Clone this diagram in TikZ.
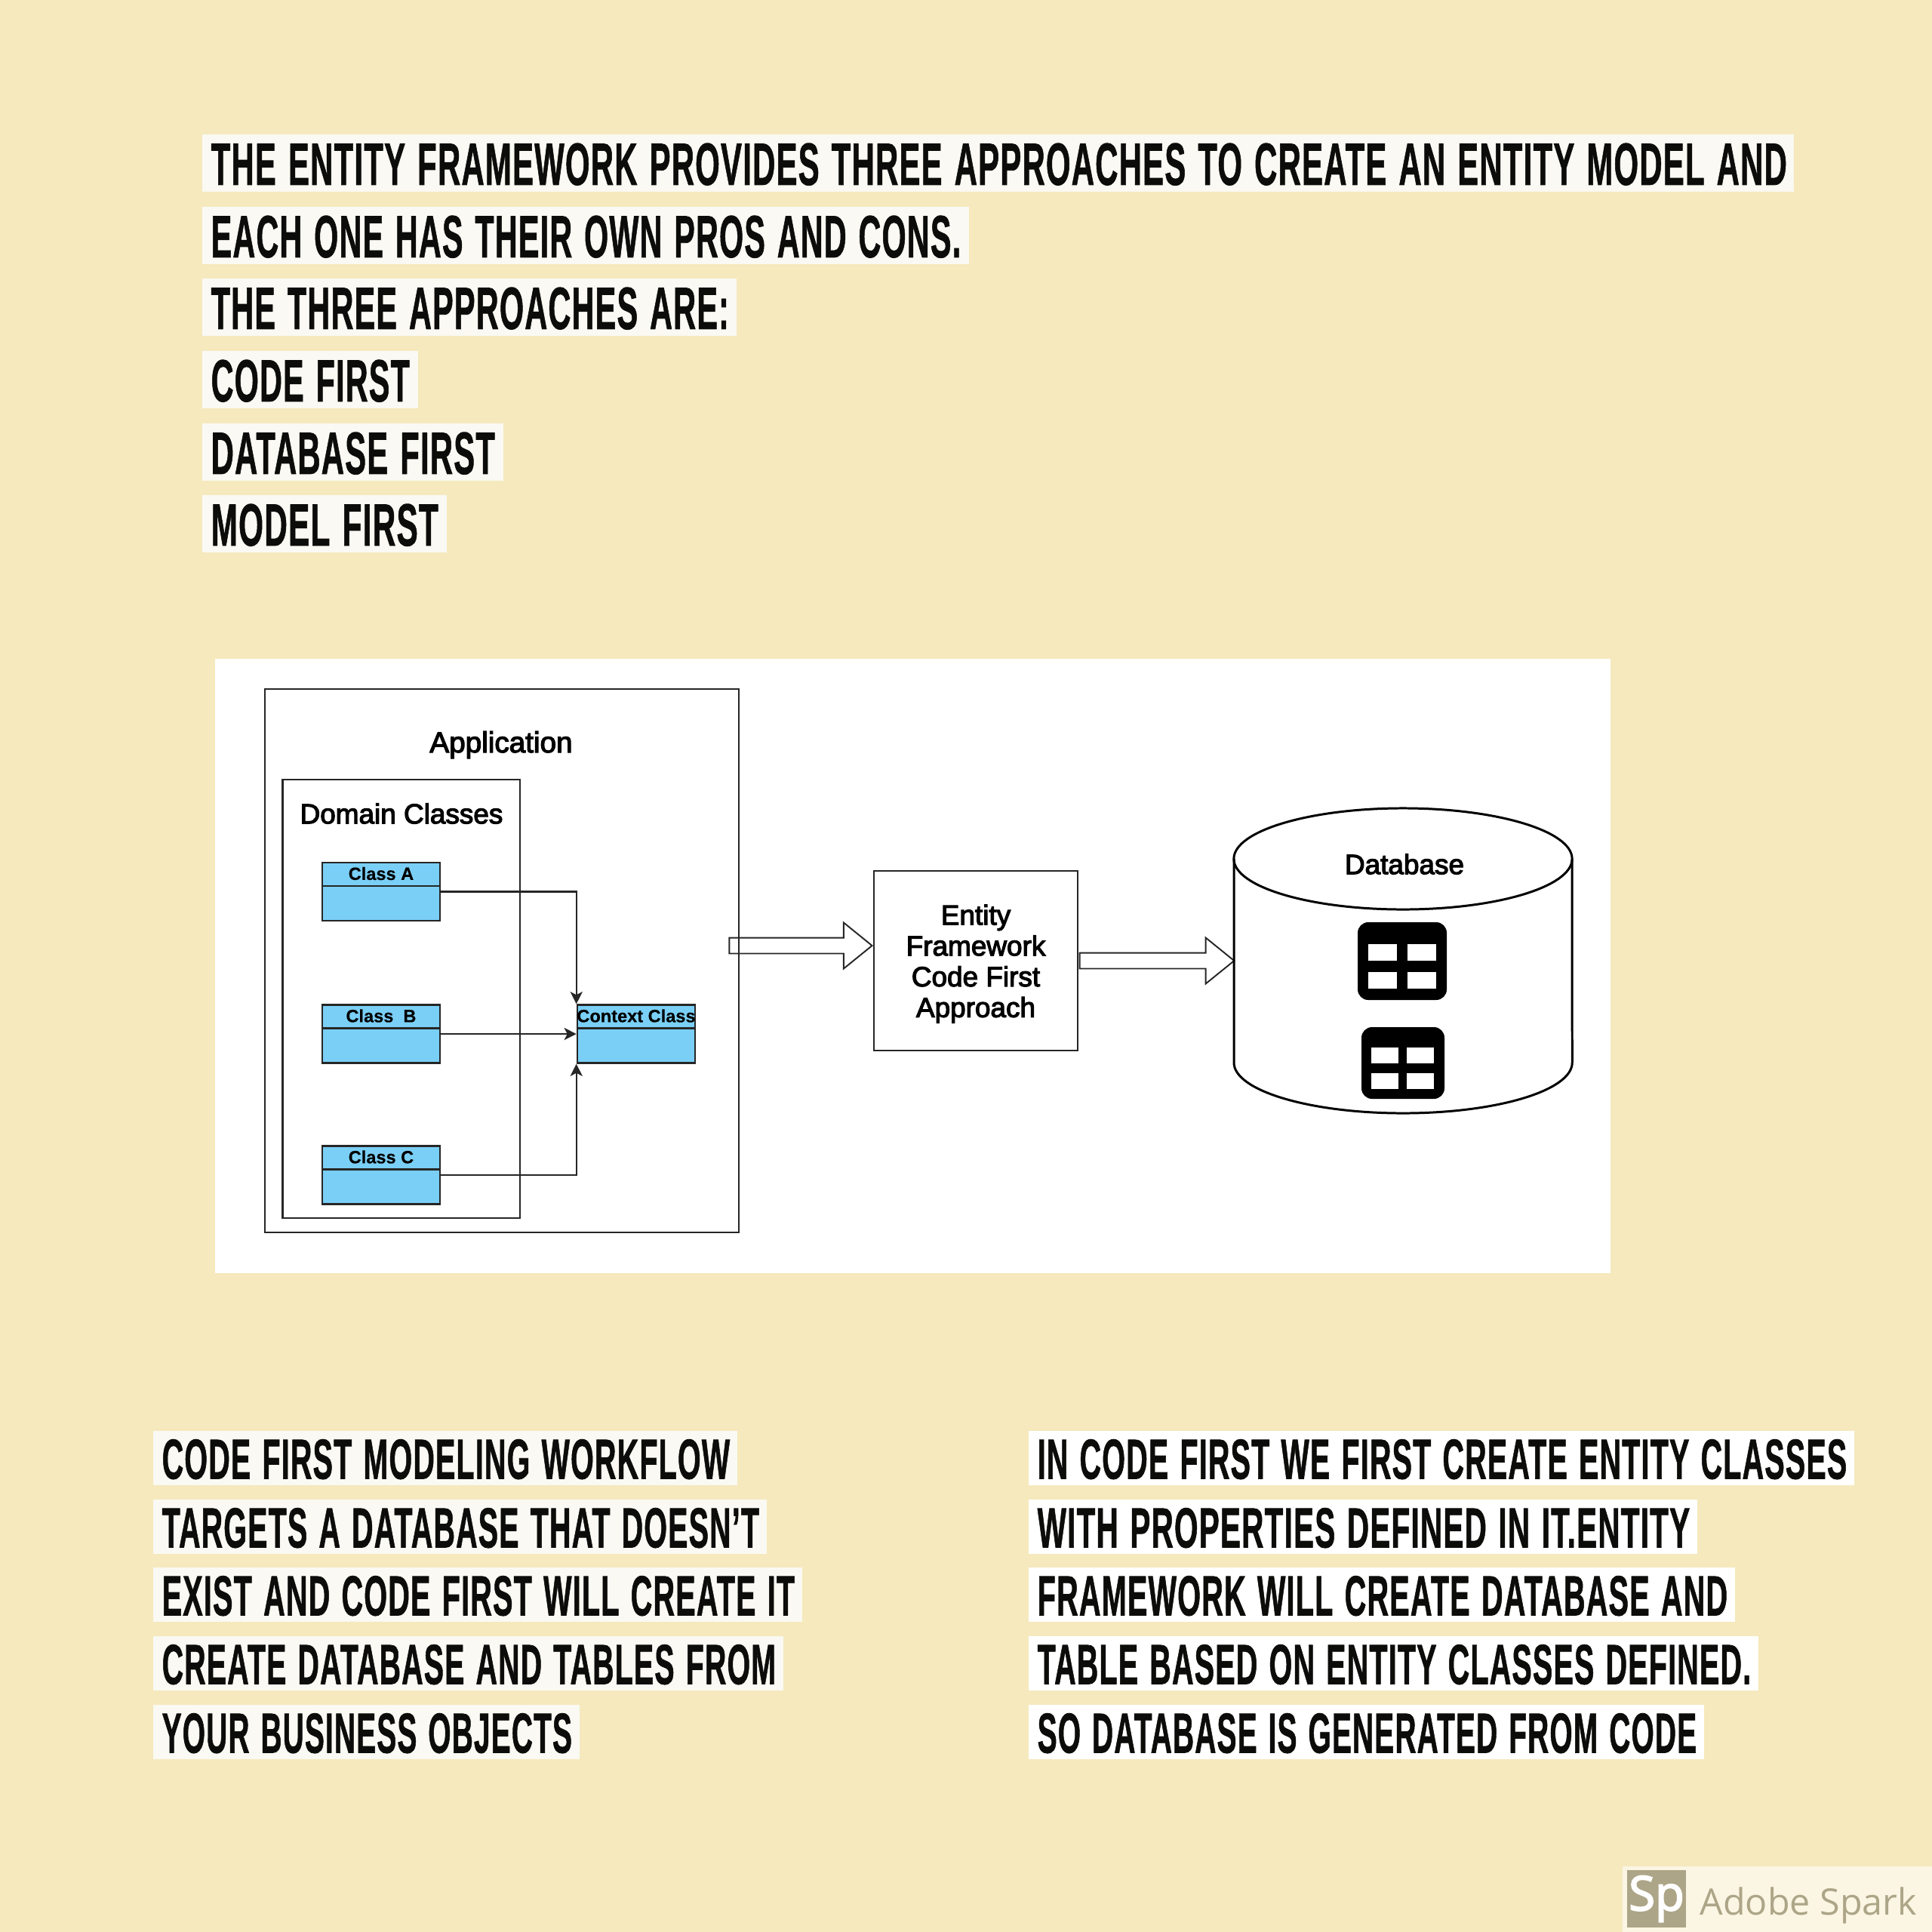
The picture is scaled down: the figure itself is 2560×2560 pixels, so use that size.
\documentclass[tikz,border=0pt]{standalone}
\usepackage{graphicx}
\usepackage{fontspec}
\usepackage{xcolor}
\usetikzlibrary{arrows.meta,shapes.arrows}
\setmainfont{Liberation Sans}
\newfontfamily\bannerfont[FakeBold=1.2,LetterSpace=3,WordSpace=1.25]{Liberation Sans}
\newfontfamily\diagramfont[RawFeature={embolden=3.2}]{Liberation Sans}
\newfontfamily\classfont[FakeBold=0.4]{Liberation Sans}
\newfontfamily\sparkfont{Open Sans}
\newfontfamily\sparklogofont[RawFeature={embolden=3}]{Open Sans}
\definecolor{pagecream}{HTML}{F5E9BD}
\definecolor{stripoff}{HTML}{FAF9F3}
\definecolor{classblue}{HTML}{7ACFF6}
\definecolor{inkblack}{HTML}{0C0C0A}
\definecolor{sparkstrip}{HTML}{FBF5E3}
\definecolor{sparkgrey}{HTML}{ADA587}
% name, fill, left, top, right, strip height, text inset, text right, words
\newcommand{\bannerrow}[9]{
  \fill[#2] (#3,#4) rectangle (#5,#4+#6);
  \pgfmathsetlengthmacro{\bannerw}{(#8-#3-#7)*0.2845pt}
  \pgfmathsetlengthmacro{\bannerh}{#6*0.725*0.2845pt}
  \node[bannertext] (#1) at (#3+#7,#4+0.145*#6) {\resizebox{\bannerw}{\bannerh}{\bannerfont\bfseries #9}};
}
\begin{document}
\begin{tikzpicture}[x=0.01cm,y=-0.01cm,
  bannertext/.style={anchor=north west,inner sep=0pt,text=inkblack},
  plainbox/.style={draw=black!85,line width=0.7pt,inner sep=0pt},
  classbox/.style={draw=black!85,fill=classblue,line width=0.7pt,minimum width=1.56cm,minimum height=0.77cm,inner sep=0pt},
  classtitle/.style={font=\classfont\bfseries\fontsize{6.7}{8}\selectfont,inner sep=0pt},
  boxtitle/.style={font=\diagramfont\fontsize{10.5}{12}\selectfont,inner sep=0pt},
  conn/.style={draw=black!85,line width=0.6pt,-{Stealth[length=4.6pt,width=4.6pt,inset=1.2pt]}},
  openarrow/.style={single arrow,draw=black!85,line width=0.55pt,inner xsep=0pt,inner ysep=2.7pt,minimum width=0.61cm,single arrow head extend=0.2cm,single arrow tip angle=78},
  tablecell/.style={fill=white}]
\path[use as bounding box,fill=pagecream] (0,0) rectangle (2560,2560);

% top text
\bannerrow{topOne}{stripoff}{268}{178}{2377}{76}{11}{2366}{THE ENTITY FRAMEWORK PROVIDES THREE APPROACHES TO CREATE AN ENTITY MODEL AND}
\bannerrow{topTwo}{stripoff}{268}{274}{1284}{76}{11}{1272}{EACH ONE HAS THEIR OWN PROS AND CONS.}
\bannerrow{topThree}{stripoff}{268}{369}{976}{76}{11}{965}{THE THREE APPROACHES ARE:}
\bannerrow{topFour}{stripoff}{268}{465}{554}{76}{11}{542}{CODE FIRST}
\bannerrow{topFive}{stripoff}{268}{561}{667}{76}{11}{655}{DATABASE FIRST}
\bannerrow{topSix}{stripoff}{268}{656}{592}{76}{11}{580}{MODEL FIRST}

% diagram
\fill[white] (285,873) rectangle (2134,1687);
\node[plainbox,minimum width=6.28cm,minimum height=7.2cm] (application) at (665,1273) {};
\node[plainbox,minimum width=3.145cm,minimum height=5.805cm] (domain) at (531.75,1323.5) {};
\node[boxtitle,font=\diagramfont\fontsize{11}{12}\selectfont] (applicationTitle) at (664,987) {Application};
\node[boxtitle] (domainTitle) at (532,1078) {Domain Classes};
\foreach \cname/\cx/\cy/\ctxt in {classA/505/1181.5/Class A,classB/505/1370/Class\ \ B,classC/505/1557/Class C,contextClass/843/1370/Context Class} {
  \node[classbox] (\cname) at (\cx,\cy) {};
  \draw[draw=black!85,line width=0.7pt] (\cx-78,\cy-7.5) -- (\cx+78,\cy-7.5);
  \node[classtitle] (\cname Title) at (\cx,\cy-24) {\ctxt};
}
\draw[conn] (classA.east) -| (contextClass.north west);
\draw[conn] (classB.east) -- (contextClass.west);
\draw[conn] (classC.east) -| (contextClass.south west);

\node[plainbox,minimum width=2.7cm,minimum height=2.38cm] (efBox) at (1293,1273) {};
\node[align=center,inner sep=0pt,font=\diagramfont\fontsize{10.5}{11.6}\selectfont] (efLabel) at (1293,1277) {Entity\\Framework\hspace{5pt}\\Code First\\Approach};
\node[openarrow,minimum height=1.89cm] (appToEf) at (1054.5,1253) {};
\node[openarrow,minimum height=2.045cm] (efToDb) at (1526.5,1273) {};

\coordinate (dbTop) at (1859,1138);
\draw[line width=0.85pt] (1635,1138) -- (1635,1408) arc[start angle=180,end angle=360,x radius=2.24cm,y radius=0.67cm] -- (2083,1138);
\draw[line width=0.85pt] (dbTop) ellipse [x radius=2.24cm,y radius=0.67cm];
\node[boxtitle] (databaseTitle) at (1861,1145) {Database};

% table icons
\fill[black,rounded corners=0.14cm] (1799,1222) rectangle (1917,1325);
\foreach \tx/\ty in {1813/1251,1865/1251,1813/1288,1865/1288} {
  \fill[tablecell] (\tx,\ty) rectangle (\tx+38,\ty+22);
}
\fill[black,rounded corners=0.14cm] (1804,1361) rectangle (1914,1456);
\foreach \tx/\ty in {1817/1388,1864/1388,1817/1422,1864/1422} {
  \fill[tablecell] (\tx,\ty) rectangle (\tx+36,\ty+20.5);
}

% lower text
\bannerrow{leftOne}{stripoff}{203}{1896}{977}{72}{11}{966}{CODE FIRST MODELING WORKFLOW}
\bannerrow{leftTwo}{stripoff}{203}{1987}{1016}{72}{11}{1005}{TARGETS A DATABASE THAT DOESN’T}
\bannerrow{leftThree}{stripoff}{203}{2077}{1063}{72}{11}{1052}{EXIST AND CODE FIRST WILL CREATE IT}
\bannerrow{leftFour}{stripoff}{203}{2168}{1038}{72}{11}{1027}{CREATE DATABASE AND TABLES FROM}
\bannerrow{leftFive}{stripoff}{203}{2259}{768}{72}{11}{757}{YOUR BUSINESS OBJECTS}
\bannerrow{rightOne}{white}{1363}{1896}{2457}{72}{11}{2446}{IN CODE FIRST WE FIRST CREATE ENTITY CLASSES}
\bannerrow{rightTwo}{white}{1363}{1987}{2249}{72}{11}{2238}{WITH PROPERTIES DEFINED IN IT.ENTITY}
\bannerrow{rightThree}{white}{1363}{2077}{2299}{72}{11}{2288}{FRAMEWORK WILL CREATE DATABASE AND}
\bannerrow{rightFour}{white}{1363}{2168}{2330}{72}{11}{2319}{TABLE BASED ON ENTITY CLASSES DEFINED.}
\bannerrow{rightFive}{white}{1363}{2259}{2258}{72}{11}{2247}{SO DATABASE IS GENERATED FROM CODE}

% badge
\fill[sparkstrip] (2150,2473) rectangle (2560,2560);
\node[fill=sparkgrey,minimum width=0.78cm,minimum height=0.76cm,inner sep=0pt,text=white,font=\sparklogofont\fontsize{18}{20}\selectfont] (sparkLogo) at (2195,2516) {Sp};
\node[text=sparkgrey,inner sep=0pt,anchor=west,font=\sparkfont\fontsize{13.75}{16}\selectfont] (sparkName) at (2252,2525) {Adobe Spark};
\end{tikzpicture}
\end{document}
